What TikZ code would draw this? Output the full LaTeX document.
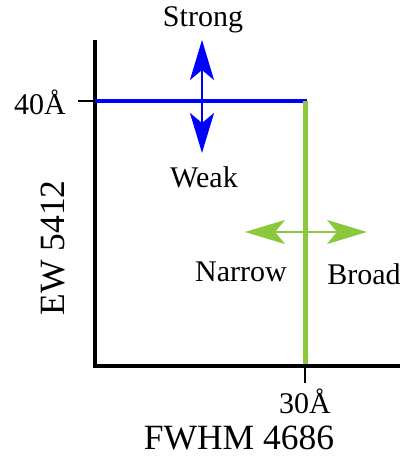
\documentclass[tikz,border=0pt]{standalone}
\usepackage{fontspec}
\setmainfont{Liberation Serif}
\usetikzlibrary{arrows.meta}
\definecolor{lgreen}{RGB}{140,200,60}
\begin{document}
\begin{tikzpicture}[x=1pt,y=-1pt,
  axis/.style={line width=4.5pt,black},
  tick/.style={line width=2pt,black},
  lbl/.style={font=\fontsize{30}{34}\selectfont,inner sep=0pt},
  title/.style={font=\fontsize{35.5}{40}\selectfont,inner sep=0pt},
  dbl/.style={line width=2.5pt,{Stealth[length=40pt,width=24pt,inset=10pt]}-{Stealth[length=40pt,width=24pt,inset=10pt]}}]
\useasboundingbox (0,0) rectangle (403,457);
% axes
\coordinate (ytop) at (95,40);
\coordinate (ybot) at (95,368.25);
\coordinate (xbeg) at (92.75,366);
\coordinate (xend) at (400,366);
\draw[axis] (ytop) -- (ybot);
\draw[axis] (xbeg) -- (xend);
% threshold lines
\coordinate (ytick) at (78,101);
\coordinate (yaxis40) at (95,101);
\coordinate (bend) at (307,101);
\coordinate (corner) at (305,101);
\coordinate (gbot) at (305,364);
\coordinate (xaxis30) at (305,366);
\coordinate (xtick) at (305,383);
\draw[tick] (ytick) -- (yaxis40);
\draw[tick] (xaxis30) -- (xtick);
\draw[blue,line width=4pt] (yaxis40) -- (bend);
\draw[lgreen,line width=5pt] (corner) -- (gbot);
% double arrows
\coordinate (bt) at (202,40);
\coordinate (bb) at (202,153);
\coordinate (gl) at (245,232);
\coordinate (gr) at (367,232);
\draw[dbl,blue] (bt) -- (bb);
\draw[dbl,lgreen] (gl) -- (gr);
% labels
\node[lbl] (strong) at (203,20) {Strong};
\node[lbl] (weak) at (204,177) {Weak};
\node[lbl] (y40) at (40,102) {40Å};
\node[lbl] (narrow) at (241,272) {Narrow};
\node[lbl] (broad) at (364,274) {Broad};
\node[lbl] (x30) at (305,401) {30Å};
\node[title] (xt) at (239,438) {FWHM 4686};
\node[title,rotate=90] (yt) at (53,248) {EW 5412};
\end{tikzpicture}
\end{document}
